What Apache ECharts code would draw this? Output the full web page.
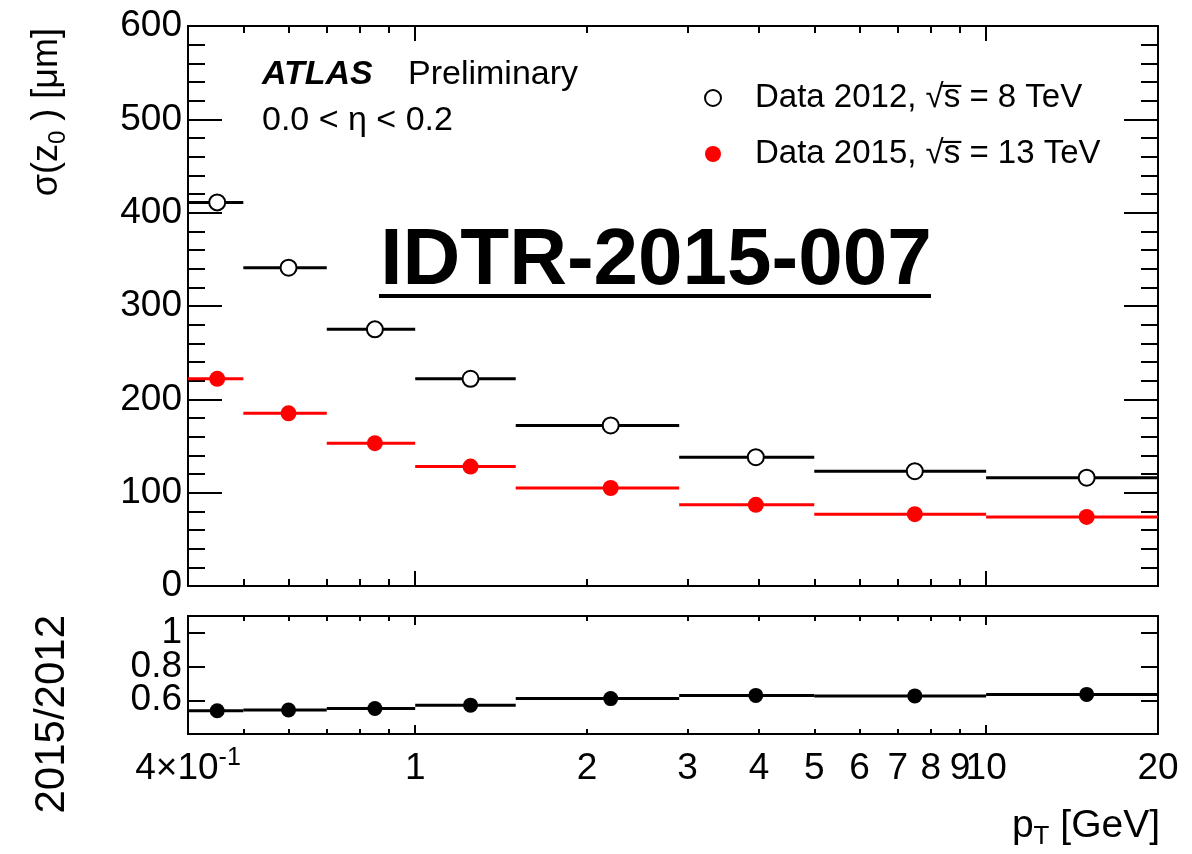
<!DOCTYPE html>
<html>
<head>
<meta charset="utf-8">
<title>sigma(z0) vs pT</title>
<script src="https://cdn.jsdelivr.net/npm/echarts@6/dist/echarts.min.js"></script>
<style>
  html, body { margin: 0; padding: 0; background: #ffffff; }
  #chart { width: 1192px; height: 854px; }
</style>
</head>
<body>
<div id="chart"></div>
<script>
// pT bins [GeV]: lower edge, upper edge and the point position inside each bin
const binLow    = [0.4, 0.5, 0.7, 1.0, 1.5, 2.9, 5, 10];
const binHigh   = [0.5, 0.7, 1.0, 1.5, 2.9, 5, 10, 20];
const binCenter = [0.45, 0.6, 0.85, 1.25, 2.2, 3.95, 7.5, 15];

// Longitudinal impact parameter resolution sigma(z0) [um]
const sigma2012 = [411, 341, 275, 222, 172, 138, 123, 116];
const sigma2015 = [222, 185, 153, 128, 105, 87, 77, 74];

// Ratio 2015 / 2012
const ratio = [0.538, 0.542, 0.551, 0.571, 0.610, 0.629, 0.626, 0.635];

// Axis tick positions and labels
const xLabelValues = [0.4, 1, 2, 3, 4, 5, 6, 7, 8, 9, 10, 20];
const xMajorTicks  = [1, 10];
const xMinorTicks  = [0.5, 0.6, 0.7, 0.8, 0.9, 2, 3, 4, 5, 6, 7, 8, 9];
const ratioTicks   = [0.6, 0.8, 1];

const name2012 = 'Data 2012, \u221As\u0305 = 8 TeV';
const name2015 = 'Data 2015, \u221As\u0305 = 13 TeV';

const FONT = "'Liberation Sans', Arial, Helvetica, sans-serif";
const BLACK = '#000000';
const RED = '#ff0000';

const chart = echarts.init(document.getElementById('chart'), null, { renderer: 'canvas' });

function binRows(values) {
  return values.map((v, i) => [binLow[i], binHigh[i], v]);
}
function pointRows(values) {
  return values.map((v, i) => [binCenter[i], v]);
}

// Horizontal bar spanning the bin width at the measured value
function binRenderer(color) {
  return function (params, api) {
    const a = api.coord([api.value(0), api.value(2)]);
    const b = api.coord([api.value(1), api.value(2)]);
    return {
      type: 'line',
      shape: { x1: a[0], y1: a[1], x2: b[0], y2: b[1] },
      style: { stroke: color, lineWidth: 3 }
    };
  };
}

function xAxis(gridIndex, position, ticks, length, label) {
  return {
    type: 'log', logBase: 10, gridIndex, position, min: 0.4, max: 20,
    axisLine: { show: false },
    splitLine: { show: false },
    axisTick: { show: true, inside: true, length, customValues: ticks,
                lineStyle: { color: BLACK, width: 2 } },
    axisLabel: label || { show: false }
  };
}

const xLabel = {
  show: true,
  customValues: xLabelValues,
  margin: 12,
  showMinLabel: true,
  showMaxLabel: true,
  hideOverlap: false,
  formatter: function (v) {
    if (Math.abs(v - 0.4) < 1e-9) return '{m|4\u00D710}{sup|-1}';
    return '{m|' + Math.round(v) + '}';
  },
  rich: {
    m:   { fontSize: 37, fontFamily: FONT, color: BLACK, lineHeight: 46 },
    sup: { fontSize: 25, fontFamily: FONT, color: BLACK, lineHeight: 46, verticalAlign: 'top' }
  }
};

function sigmaAxis(position, withLabels) {
  return {
    type: 'value', gridIndex: 0, position, min: 0, max: 600, interval: 100,
    axisLine: { show: false },
    splitLine: { show: false },
    axisTick: { show: true, inside: true, length: 34, lineStyle: { color: BLACK, width: 2 } },
    minorTick: { show: true, splitNumber: 5, length: 17, lineStyle: { color: BLACK, width: 2 } },
    axisLabel: withLabels
      ? { show: true, color: BLACK, fontSize: 37, fontFamily: FONT, margin: 6 }
      : { show: false }
  };
}

// Ratio axes: the tick labels sit close together, so each one gets its own axis
function ratioAxis(position, labelValue, withTicks) {
  return {
    type: 'value', gridIndex: 1, position, min: 0.4, max: 1.1,
    axisLine: { show: false },
    splitLine: { show: false },
    axisTick: { show: withTicks, inside: true, length: 17, customValues: ratioTicks,
                lineStyle: { color: BLACK, width: 2 } },
    axisLabel: labelValue != null
      ? { show: true, customValues: [labelValue], color: BLACK, fontSize: 37, fontFamily: FONT, margin: 6,
          hideOverlap: false, showMinLabel: true, showMaxLabel: true,
          formatter: v => String(Math.round(v * 10) / 10) }
      : { show: false }
  };
}

const option = {
  backgroundColor: '#ffffff',
  animation: false,
  textStyle: { fontFamily: FONT, color: BLACK },
  grid: [
    { left: 188, top: 26, width: 970, height: 560, show: true, borderColor: BLACK, borderWidth: 2,
      backgroundColor: 'transparent', containLabel: false, outerBoundsMode: 'none' },
    { left: 188, top: 616, width: 970, height: 118, show: true, borderColor: BLACK, borderWidth: 2,
      backgroundColor: 'transparent', containLabel: false, outerBoundsMode: 'none' }
  ],
  xAxis: [
    xAxis(0, 'bottom', xMajorTicks, 15),
    xAxis(0, 'bottom', xMinorTicks, 7),
    xAxis(0, 'top', xMajorTicks, 15),
    xAxis(0, 'top', xMinorTicks, 7),
    xAxis(1, 'bottom', xMajorTicks, 9, xLabel),
    xAxis(1, 'bottom', xMinorTicks, 5),
    xAxis(1, 'top', xMajorTicks, 9),
    xAxis(1, 'top', xMinorTicks, 5)
  ],
  yAxis: [
    sigmaAxis('left', true),
    sigmaAxis('right', false),
    ratioAxis('left', ratioTicks[0], true),
    ratioAxis('right', null, true),
    ratioAxis('left', ratioTicks[1], false),
    ratioAxis('left', ratioTicks[2], false)
  ],
  legend: {
    orient: 'vertical',
    left: 699, top: 75,
    itemWidth: 16, itemHeight: 16, itemGap: 20,
    selectedMode: false,
    data: [name2012, name2015],
    textStyle: { fontSize: 33, fontFamily: FONT, color: BLACK, lineHeight: 36, padding: [0, 0, 0, 29] }
  },
  series: [
    { type: 'custom', name: 'bins2012', xAxisIndex: 0, yAxisIndex: 0, z: 2,
      renderItem: binRenderer(BLACK), encode: { x: [0, 1], y: 2 }, data: binRows(sigma2012) },
    { type: 'custom', name: 'bins2015', xAxisIndex: 0, yAxisIndex: 0, z: 3,
      renderItem: binRenderer(RED), encode: { x: [0, 1], y: 2 }, data: binRows(sigma2015) },
    { type: 'scatter', name: name2012, xAxisIndex: 0, yAxisIndex: 0, z: 4,
      symbol: 'circle', symbolSize: 16,
      itemStyle: { color: '#ffffff', borderColor: BLACK, borderWidth: 2, opacity: 1 },
      data: pointRows(sigma2012) },
    { type: 'scatter', name: name2015, xAxisIndex: 0, yAxisIndex: 0, z: 5,
      symbol: 'circle', symbolSize: 16,
      itemStyle: { color: RED, borderWidth: 0, opacity: 1 },
      data: pointRows(sigma2015) },
    { type: 'custom', name: 'binsRatio', xAxisIndex: 4, yAxisIndex: 2, z: 2,
      renderItem: binRenderer(BLACK), encode: { x: [0, 1], y: 2 }, data: binRows(ratio) },
    { type: 'scatter', name: 'ratio', xAxisIndex: 4, yAxisIndex: 2, z: 4,
      symbol: 'circle', symbolSize: 15,
      itemStyle: { color: BLACK, borderWidth: 0, opacity: 1 },
      data: pointRows(ratio) }
  ],
  graphic: [
    { type: 'text', x: 262, y: 75, z: 10,
      style: { text: 'ATLAS', font: 'italic bold 34px ' + FONT, fill: BLACK,
               align: 'left', verticalAlign: 'middle', textAlign: 'left', textVerticalAlign: 'middle' } },
    { type: 'text', x: 408, y: 75, z: 10,
      style: { text: 'Preliminary', font: '34px ' + FONT, fill: BLACK,
               align: 'left', verticalAlign: 'middle', textAlign: 'left', textVerticalAlign: 'middle' } },
    { type: 'text', x: 262, y: 121, z: 10,
      style: { text: '0.0 < \u03B7 < 0.2', font: '34px ' + FONT, fill: BLACK,
               align: 'left', verticalAlign: 'middle', textAlign: 'left', textVerticalAlign: 'middle' } },
    { type: 'text', x: 656, y: 262, z: 10,
      style: { text: 'IDTR-2015-007', font: 'bold 80px ' + FONT, fill: BLACK,
               align: 'center', verticalAlign: 'middle', textAlign: 'center', textVerticalAlign: 'middle' } },
    { type: 'rect', z: 10, shape: { x: 379, y: 294, width: 552, height: 4 }, style: { fill: BLACK } },
    // y-axis titles, read bottom to top
    { type: 'text', x: 47, y: 28, rotation: Math.PI / 2, z: 10,
      style: { text: '{m|\u03C3(z}{s|0}{m| ) [\u03BCm]}', fill: BLACK,
               align: 'right', verticalAlign: 'middle', textAlign: 'right', textVerticalAlign: 'middle',
               rich: { m: { fontSize: 36, fontFamily: FONT, fill: BLACK, color: BLACK, lineHeight: 46 },
                       s: { fontSize: 24, fontFamily: FONT, fill: BLACK, color: BLACK, lineHeight: 46, verticalAlign: 'bottom' } } } },
    { type: 'text', x: 52, y: 615, rotation: Math.PI / 2, z: 10,
      style: { text: '2015/2012', font: '42px ' + FONT, fill: BLACK,
               align: 'right', verticalAlign: 'middle', textAlign: 'right', textVerticalAlign: 'middle' } },
    // x-axis title
    { type: 'text', x: 1160, y: 826, z: 10,
      style: { text: '{m|p}{s|T}{m| [GeV]}', fill: BLACK,
               align: 'right', verticalAlign: 'middle', textAlign: 'right', textVerticalAlign: 'middle',
               rich: { m: { fontSize: 39, fontFamily: FONT, fill: BLACK, color: BLACK, lineHeight: 48 },
                       s: { fontSize: 26, fontFamily: FONT, fill: BLACK, color: BLACK, lineHeight: 48, verticalAlign: 'bottom' } } } }
  ]
};

chart.setOption(option);
</script>
</body>
</html>
